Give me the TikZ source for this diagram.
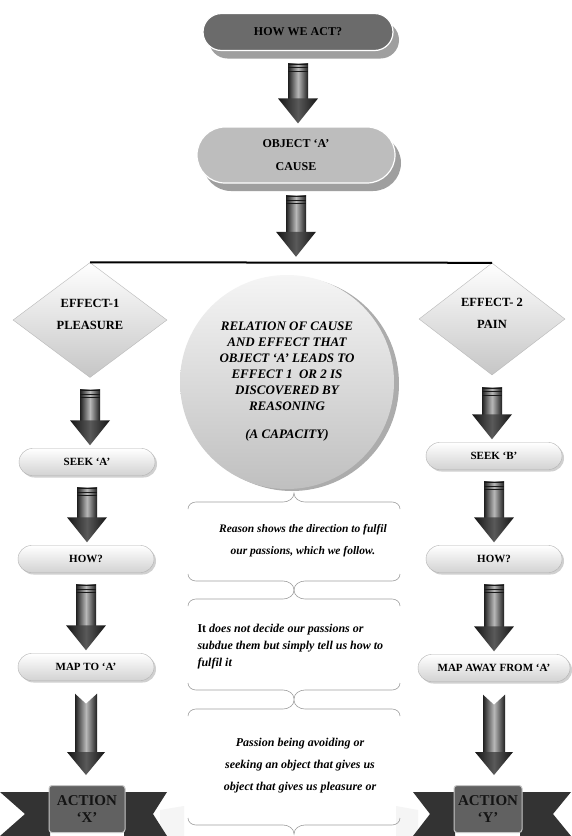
\documentclass[tikz,border=0pt]{standalone}
\usepackage{fontspec}
\setmainfont{Liberation Serif}
\usetikzlibrary{calc,shapes.geometric,shapes.misc,shadows}

\tikzset{
  pill/.style={rounded rectangle, draw=gray!60, top color=white, bottom color=gray!35,
    minimum width=136pt, minimum height=27pt, inner sep=0pt,
    font=\bfseries\fontsize{11}{13}\selectfont,
    drop shadow={shadow xshift=2pt, shadow yshift=-2pt, fill=gray!60, opacity=.6}},
  bigpill/.style={rounded rectangle, draw=white, line width=1.2pt, inner sep=0pt, align=center,
    font=\bfseries\fontsize{12}{23}\selectfont,
    drop shadow={shadow xshift=6pt, shadow yshift=-8pt, fill=gray!75, opacity=1}},
  effect/.style={diamond, draw=gray!55, top color=white, bottom color=gray!45,
    minimum width=154pt, minimum height=115pt, inner sep=0pt, align=center,
    font=\bfseries\fontsize{12.5}{22}\selectfont},
  bracelin/.style={draw=gray!75, line width=0.6pt},
  remark/.style={font=\bfseries\itshape\fontsize{12}{22}\selectfont, align=center},
  ribbon/.style={fill=black!80},
  banner/.style={rectangle, rounded corners=3pt, draw=gray!45, line width=1pt, fill=black!62,
    minimum width=76pt, minimum height=47pt, inner sep=0pt, align=center,
    font=\bfseries\fontsize{15}{17}\selectfont, text=black!92},
}

\newcommand{\fatarrow}[2]{%
  \path let \p1=(#1.south), \p2=(#2.north) in
    [left color=black!88, right color=black!88, middle color=gray!55]
    (\x1-10pt,\y1-12pt) rectangle (\x1+10pt,\y2+28pt);
  \path let \p1=(#1.south), \p2=(#2.north) in
    [left color=black!92, right color=black!92, middle color=black!65]
    (\x1-20pt,\y2+28pt) -- (\x1+20pt,\y2+28pt) -- (\x1,\y2+3pt) -- cycle;
  \draw[black!90, line width=1.2pt] let \p1=(#1.south) in
    (\x1-10pt,\y1-13pt) -- (\x1+10pt,\y1-13pt)
    (\x1-10pt,\y1-16.5pt) -- (\x1+10pt,\y1-16.5pt)
    (\x1-10pt,\y1-20pt) -- (\x1+10pt,\y1-20pt);
}
\newcommand{\chevarrow}[2]{%
  \path let \p1=(#1.south), \p2=(#2.north) in
    [left color=black!88, right color=black!88, middle color=gray!55]
    (\x1-11pt,\y1-13pt) -- (\x1,\y1-23pt) -- (\x1+11pt,\y1-13pt)
    -- (\x1+11pt,\y2+33pt) -- (\x1-11pt,\y2+33pt) -- cycle;
  \path let \p1=(#1.south), \p2=(#2.north) in
    [left color=black!92, right color=black!92, middle color=black!65]
    (\x1-19pt,\y2+33pt) -- (\x1+19pt,\y2+33pt) -- (\x1,\y2+10pt) -- cycle;
}
\newcommand{\upbrace}[4]{%
  \draw[bracelin] (#1,#4+7) to[out=90,in=180] (#1+8,#4)
    -- (#2-11,#4) to[out=0,in=-90] (#2,#4-9)
    to[out=-90,in=180] (#2+11,#4) -- (#3-8,#4) to[out=0,in=90] (#3,#4+7);
}
\newcommand{\downbrace}[4]{%
  \draw[bracelin] (#1,#4-7) to[out=-90,in=180] (#1+8,#4)
    -- (#2-11,#4) to[out=0,in=90] (#2,#4+9)
    to[out=90,in=180] (#2+11,#4) -- (#3-8,#4) to[out=0,in=-90] (#3,#4-7);
}

\begin{document}
\begin{tikzpicture}[x=1pt, y=-1pt]
    \useasboundingbox[fill=white] (0,0) rectangle (571,836);

    \node[bigpill, fill=black!58, minimum width=190pt, minimum height=37pt] (howact) at (298,32) {HOW WE ACT?};
    \node[bigpill, fill=black!26, minimum width=198pt, minimum height=56pt] (objA) at (296,155) {OBJECT `A'\\CAUSE};

    \node[effect] (eff1) at (90,320) {EFFECT-1\\PLEASURE\\[-10pt]};
    \node[effect, minimum width=146pt, minimum height=112pt] (eff2) at (492,319) {EFFECT- 2\\PAIN\\[-10pt]};
    \draw[line width=2pt] (eff1.north) -- (eff2.north);
    \node[inner sep=0pt, minimum size=4pt] (split) at (294,262) {};

    \fill[gray!65] (292,384) circle (107);
    \node[circle, minimum size=214pt, inner sep=0pt, top color=gray!8, bottom color=gray!50,
        font=\bfseries\itshape\fontsize{13}{16}\selectfont, align=center] (reason) at (287,382)
        {RELATION OF CAUSE\\AND EFFECT THAT\\OBJECT `A' LEADS TO\\EFFECT 1\ \ OR 2 IS\\DISCOVERED BY\\REASONING\\[12pt](A CAPACITY)};

    \node[pill] (seekA) at (87,462) {SEEK `A'};
    \node[pill] (howA) at (86,559) {HOW?};
    \node[pill] (mapA) at (86,667) {MAP TO `A'};

    \node[pill] (seekB) at (494,456) {SEEK `B'};
    \node[pill] (howB) at (494,559) {HOW?};
    \node[pill, minimum width=152pt] (mapB) at (494,668) {MAP AWAY FROM `A'};

    \fill[gray!8] (160,810) -- (184,806) -- (184,836) -- (160,836) -- cycle;
    \fill[gray!8] (396,806) -- (418,810) -- (418,836) -- (396,836) -- cycle;
    \fill[ribbon] (0,792) -- (50,792) -- (50,836) -- (0,836) -- (25,814) -- cycle;
    \fill[ribbon] (124,792) -- (167,792) -- (153,814) -- (167,836) -- (124,836) -- cycle;
    \fill[ribbon] (413,792) -- (455,792) -- (455,836) -- (413,836) -- (430,814) -- cycle;
    \fill[ribbon] (520,792) -- (571,792) -- (553,814) -- (571,836) -- (520,836) -- cycle;
    \node[banner] (actX) at (87,809) {ACTION\\`X'};
    \node[banner, minimum width=68pt] (actY) at (488,809) {ACTION\\`Y'};

    \fatarrow{howact}{objA}
    \fatarrow{objA}{split}
    \fatarrow{eff1}{seekA}
    \fatarrow{seekA}{howA}
    \fatarrow{howA}{mapA}
    \chevarrow{mapA}{actX}
    \fatarrow{eff2}{seekB}
    \fatarrow{seekB}{howB}
    \fatarrow{howB}{mapB}
    \chevarrow{mapB}{actY}

    \upbrace{188}{294}{400}{502}
    \downbrace{188}{294}{400}{581}
    \upbrace{188}{294}{400}{599}
    \downbrace{188}{294}{400}{690}
    \upbrace{188}{294}{400}{709}
    \downbrace{188}{294}{400}{825}

    \node[remark, font=\bfseries\itshape\fontsize{11.5}{22}\selectfont] (note1) at (303,541) {Reason shows the direction to fulfil\\our passions, which we follow.};
    \node[remark, align=left, anchor=west, font=\bfseries\fontsize{12}{17}\selectfont] (note2) at (194,647)
        {It \textit{does not decide our passions or}\\\textit{subdue them but simply tell us how to}\\\textit{fulfil it}};
    \node[remark] (note3) at (300,766) {Passion being avoiding or\\seeking an object that gives us\\object that gives us pleasure or};
\end{tikzpicture}
\end{document}
